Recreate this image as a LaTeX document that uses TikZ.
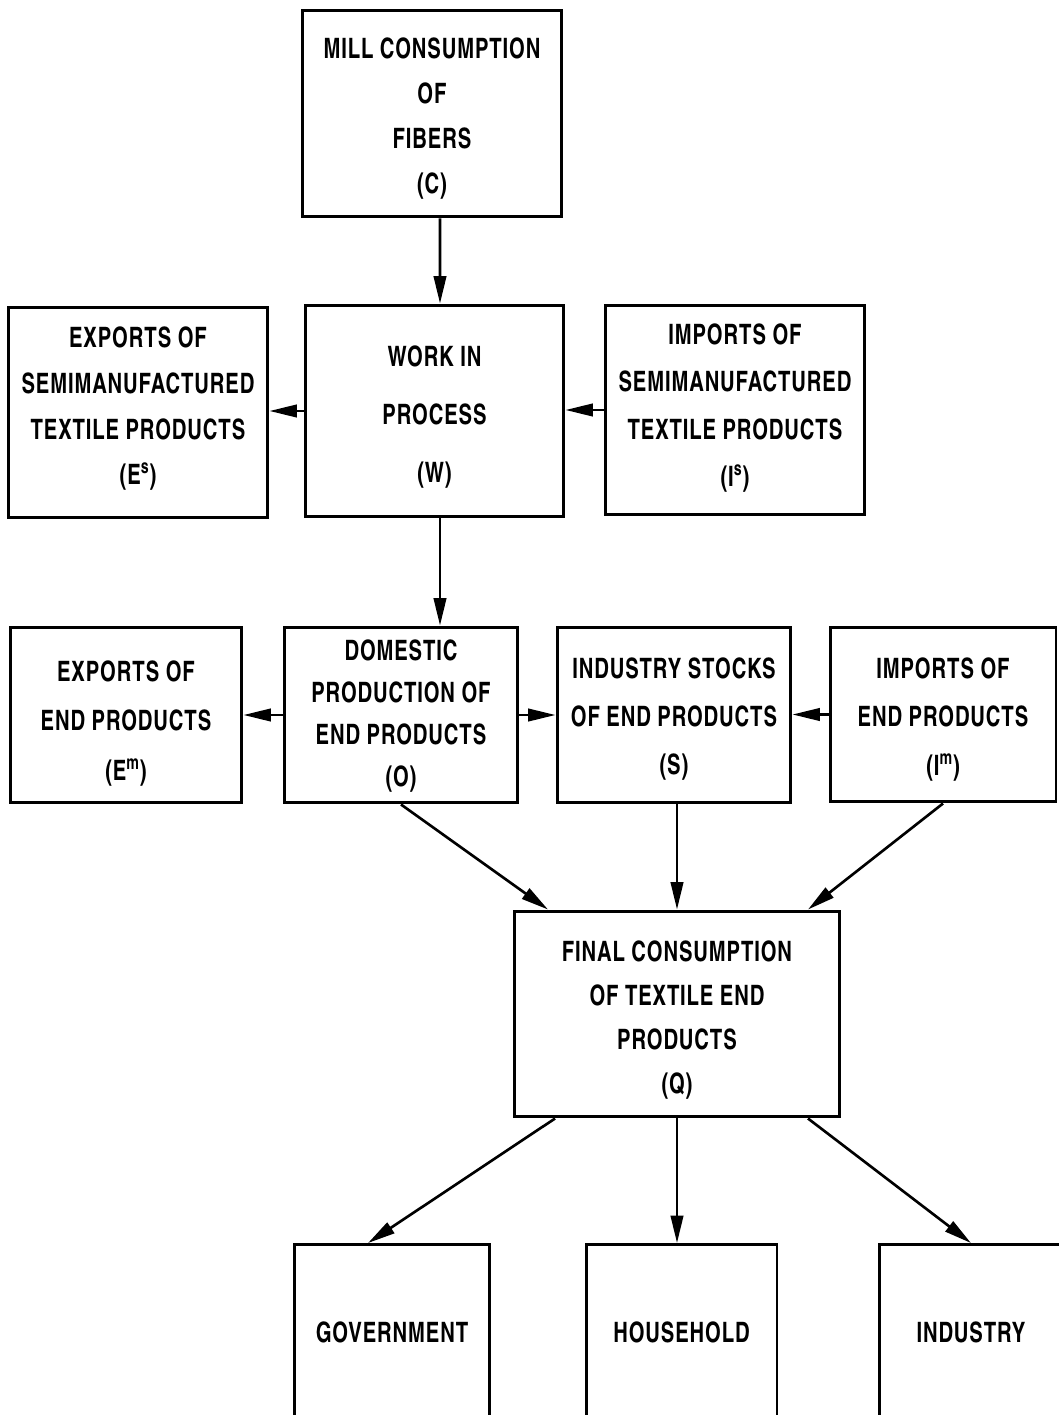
\documentclass[tikz,border=0pt]{standalone}
\usepackage{fontspec}
\setmainfont{texgyreheroscn-bold.otf}[FakeStretch=0.88,LetterSpace=3]
\usetikzlibrary{arrows.meta,calc}
\newcommand{\lsk}[1]{\fontsize{16}{#1}\selectfont}
\begin{document}
\begin{tikzpicture}[x=0.02cm,y=-0.02cm,
  box/.style={draw, line width=1.7pt, inner sep=0pt},
  txt/.style={align=center, inner sep=0pt, font=\lsk{19}},
  arr/.style={line width=1.5pt, -{Triangle[length=0.55cm,width=0.25cm]}}]
\useasboundingbox (0,0) rectangle (1058,1415);
\fill[white] (0,0) rectangle (1058,1415);

\node[box, minimum width=5.2cm, minimum height=4.14cm,
  label={[txt, font=\lsk{25.6}, yshift=-0.1cm]center:{MILL CONSUMPTION\\OF\\FIBERS\\(C)}}] (C) at (432,113.5) {};
\node[box, minimum width=5.18cm, minimum height=4.24cm,
  label={[txt, font=\lsk{33}, yshift=-0.12cm]center:{WORK IN\\PROCESS\\(W)}}] (W) at (434.5,411) {};
\node[box, minimum width=5.2cm, minimum height=4.22cm,
  label={[txt, font=\lsk{26}, yshift=0.07cm]center:{EXPORTS OF\\SEMIMANUFACTURED\\TEXTILE PRODUCTS\\(E\textsuperscript{s})}}] (Es) at (138,412.5) {};
\node[box, minimum width=5.2cm, minimum height=4.2cm,
  label={[txt, font=\lsk{27}, yshift=0.04cm]center:{IMPORTS OF\\SEMIMANUFACTURED\\TEXTILE PRODUCTS\\(I\textsuperscript{s})}}] (Is) at (735,410) {};
\node[box, minimum width=4.64cm, minimum height=3.52cm,
  label={[txt, font=\lsk{28}, yshift=-0.17cm]center:{EXPORTS OF\\END PRODUCTS\\(E\textsuperscript{m})}}] (Em) at (126,715) {};
\node[box, minimum width=4.68cm, minimum height=3.52cm,
  label={[txt, font=\lsk{24}, yshift=-0.02cm]center:{DOMESTIC\\PRODUCTION OF\\END PRODUCTS\\(O)}}] (O) at (401,715) {};
\node[box, minimum width=4.68cm, minimum height=3.52cm,
  label={[txt, font=\lsk{27.4}, yshift=-0.08cm]center:{INDUSTRY STOCKS\\OF END PRODUCTS\\(S)}}] (S) at (674,715) {};
\node[box, minimum width=4.52cm, minimum height=3.5cm,
  label={[txt, font=\lsk{27.4}, yshift=-0.1cm]center:{IMPORTS OF\\END PRODUCTS\\(I\textsuperscript{m})}}] (Im) at (943,714.5) {};
\node[box, minimum width=6.52cm, minimum height=4.12cm,
  label={[txt, font=\lsk{25}, yshift=-0.12cm]center:{FINAL CONSUMPTION\\OF TEXTILE END\\PRODUCTS\\(Q)}}] (Q) at (677,1014) {};
\node[box, minimum width=3.92cm, minimum height=3.5cm,
  label={[txt]center:GOVERNMENT}] (G) at (392,1332) {};
\node[box, minimum width=3.82cm, minimum height=3.5cm,
  label={[txt]center:HOUSEHOLD}] (H) at (681.5,1332) {};
\node[box, minimum width=3.68cm, minimum height=3.5cm,
  label={[txt]center:INDUSTRY}] (Ind) at (971,1332) {};

\draw[arr] ([xshift=0.16cm]C.south) -- ([xshift=0.11cm]W.north);
\draw[arr] (W.west) -- (W.west -| Es.east);
\draw[arr] (Is.west) -- (Is.west -| W.east);
\draw[arr] ([xshift=0.11cm]W.south) -- ([xshift=0.11cm]W.south |- O.north);
\draw[arr] (O.west) -- (O.west -| Em.east);
\draw[arr] (O.east) -- (O.east -| S.west);
\draw[arr] (Im.west) -- (Im.west -| S.east);
\draw[arr] (O.south) -- ([xshift=-2.58cm]Q.north);
\draw[arr] ([xshift=0.06cm]S.south) -- ([xshift=0.06cm]S.south |- Q.north);
\draw[arr] (Im.south) -- ([xshift=2.62cm]Q.north);
\draw[arr] ([xshift=-2.44cm]Q.south) -- ([xshift=-0.48cm]G.north);
\draw[arr] (Q.south) -- (Q.south |- H.north);
\draw[arr] ([xshift=2.62cm]Q.south) -- (Ind.north);
\end{tikzpicture}
\end{document}
